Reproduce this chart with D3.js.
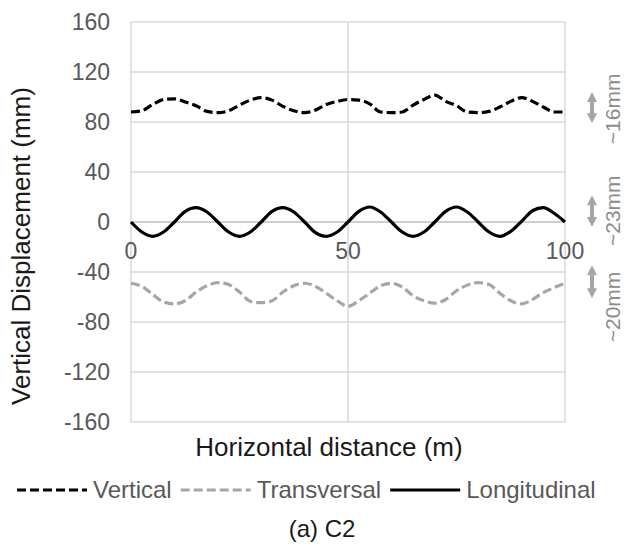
<!DOCTYPE html>
<html>
<head>
<meta charset="utf-8">
<script src="https://cdn.jsdelivr.net/npm/d3@7"></script>
<style>
  body { margin: 0; background: #fff; }
  text { font-family: "Liberation Sans", Arial, sans-serif; }
</style>
</head>
<body>
<div id="chart"></div>
<script>
// distance along the section (m), one reading every 2.5 m
var distances = [0, 2.5, 5, 7.5, 10, 12.5, 15, 17.5, 20, 22.5, 25, 27.5, 30, 32.5, 35, 37.5, 40,
    42.5, 45, 47.5, 50, 52.5, 55, 57.5, 60, 62.5, 65, 67.5, 70, 72.5, 75, 77.5, 80, 82.5, 85,
    87.5, 90, 92.5, 95, 97.5, 100];

var verticalValues = [88, 89, 94, 98, 98.5, 96, 93, 88.5, 87.5, 89, 93.5, 97.5, 99.5, 97.5, 92.5,
    89, 87.5, 89.5, 94, 96.5, 98, 97.5, 94.5, 88, 87.5, 88, 93.5, 98, 101.5, 96.5, 93, 88, 87.5,
    88.5, 92, 96.5, 99.5, 96.5, 92, 88, 88];

var transversalValues = [-49, -51.5, -58, -64, -65.5, -63, -56, -51, -48.5, -50, -56, -63.5, -64.5,
    -63, -56, -51, -49, -51.5, -57, -63, -67.5, -63, -57, -51, -49, -52, -59, -63, -65, -62, -55,
    -50.5, -48.5, -50, -57, -63, -65.5, -62, -56.5, -52.5, -49];

var longitudinalValues = [0, -8, -11.5, -8, 0, 8.5, 11.5, 8, 0, -8, -11.5, -8, 0, 8.5, 11.5, 8, 0,
    -8.5, -11.5, -8, 0, 8.5, 12, 8, 0, -8, -11.5, -8, 0, 8.5, 12, 8, 0, -8, -11.5, -7.5, 0.5, 9,
    11.5, 7, 0];

var yTicks = [160, 120, 80, 40, 0, -40, -80, -120, -160];
var xTicks = [0, 50, 100];

// amplitude notes on the right: arrow span and label centre, in mm
var noteLabels = ['~16mm', '~23mm', '~20mm'];
var noteArrowFrom = [104, 21.5, -34.5];
var noteArrowTo = [79, -4, -61];
var noteTextAt = [90.5, 9, -68];

var seriesNames = ['Vertical', 'Transversal', 'Longitudinal'];
var seriesData = [verticalValues, transversalValues, longitudinalValues];
var seriesColors = ['#000000', '#a6a6a6', '#000000'];
var seriesDash = ['9,4', '9,4', null];

var gSettings = {
    width : 627,
    height : 545,
    margin : { top : 22, right : 62, bottom : 123, left : 131 }
};

function drawChart(){
    var m = gSettings.margin;
    var svg = d3.select('#chart').append('svg')
        .attr('width', gSettings.width)
        .attr('height', gSettings.height);

    var x = d3.scaleLinear().domain([0, 100]).range([m.left, gSettings.width - m.right]);
    var y = d3.scaleLinear().domain([-160, 160]).range([gSettings.height - m.bottom, m.top]);

    //grid lines
    svg.append('g').selectAll('line.h')
        .data(yTicks).enter().append('line')
        .attr('x1', x(0)).attr('x2', x(100))
        .attr('y1', function(d){ return y(d); })
        .attr('y2', function(d){ return y(d); })
        .attr('stroke', function(d){ return d === 0 ? '#bfbfbf' : '#d9d9d9'; })
        .attr('stroke-width', 1.5);

    svg.append('g').selectAll('line.v')
        .data(xTicks).enter().append('line')
        .attr('x1', function(d){ return x(d); })
        .attr('x2', function(d){ return x(d); })
        .attr('y1', y(160)).attr('y2', y(-160))
        .attr('stroke', '#d9d9d9')
        .attr('stroke-width', 1.5);

    //y tick labels
    svg.append('g').selectAll('text')
        .data(yTicks).enter().append('text')
        .attr('x', 110)
        .attr('y', function(d){ return y(d) + 8; })
        .attr('text-anchor', 'end')
        .attr('font-size', 23)
        .attr('fill', '#595959')
        .text(function(d){ return d; });

    //x tick labels sit on the zero line
    svg.append('g').selectAll('text')
        .data(xTicks).enter().append('text')
        .attr('x', function(d){ return x(d); })
        .attr('y', y(0) + 37)
        .attr('text-anchor', 'middle')
        .attr('font-size', 23)
        .attr('fill', '#595959')
        .text(function(d){ return d; });

    //series
    seriesData.forEach(function(values, i){
        var line = d3.line()
            .x(function(d, j){ return x(distances[j]); })
            .y(function(d){ return y(d); })
            .curve(d3.curveMonotoneX);
        svg.append('path')
            .datum(values)
            .attr('d', line)
            .attr('fill', 'none')
            .attr('stroke', seriesColors[i])
            .attr('stroke-width', 3.2)
            .attr('stroke-dasharray', seriesDash[i]);
    });

    //axis titles
    svg.append('text')
        .attr('transform', 'translate(30,246) rotate(-90)')
        .attr('text-anchor', 'middle')
        .attr('font-size', 26)
        .attr('fill', '#1a1a1a')
        .text('Vertical Displacement (mm)');

    svg.append('text')
        .attr('x', 329)
        .attr('y', 456)
        .attr('text-anchor', 'middle')
        .attr('font-size', 26)
        .attr('fill', '#1a1a1a')
        .text('Horizontal distance (m)');

    //amplitude notes
    var notes = svg.append('g');
    noteLabels.forEach(function(label, i){
        var ax = 592,
            y1 = y(noteArrowFrom[i]),
            y2 = y(noteArrowTo[i]);
        notes.append('line')
            .attr('x1', ax).attr('x2', ax)
            .attr('y1', y1 + 8).attr('y2', y2 - 8)
            .attr('stroke', '#a6a6a6').attr('stroke-width', 4);
        notes.append('path')
            .attr('d', 'M' + ax + ',' + y1 + 'L' + (ax + 5) + ',' + (y1 + 10) + 'L' + (ax - 5) + ',' + (y1 + 10) + 'Z')
            .attr('fill', '#a6a6a6');
        notes.append('path')
            .attr('d', 'M' + ax + ',' + y2 + 'L' + (ax + 5) + ',' + (y2 - 10) + 'L' + (ax - 5) + ',' + (y2 - 10) + 'Z')
            .attr('fill', '#a6a6a6');
        notes.append('text')
            .attr('transform', 'translate(620,' + y(noteTextAt[i]) + ') rotate(-90)')
            .attr('text-anchor', 'middle')
            .attr('font-size', 21)
            .attr('fill', '#8c8c8c')
            .text(label);
    });

    //legend
    var legend = svg.append('g');
    var lx = 17, ly = 490;
    seriesNames.forEach(function(name, i){
        legend.append('line')
            .attr('x1', lx).attr('x2', lx + 70)
            .attr('y1', ly).attr('y2', ly)
            .attr('stroke', seriesColors[i])
            .attr('stroke-width', 3.2)
            .attr('stroke-dasharray', seriesDash[i]);
        var t = legend.append('text')
            .attr('x', lx + 76)
            .attr('y', ly + 8)
            .attr('font-size', 24)
            .attr('fill', '#595959')
            .text(name);
        lx += 76 + t.node().getComputedTextLength() + 9;
    });

    svg.append('text')
        .attr('x', 322)
        .attr('y', 537)
        .attr('text-anchor', 'middle')
        .attr('font-size', 24)
        .attr('fill', '#1a1a1a')
        .text('(a) C2');
}

drawChart();
</script>
</body>
</html>
